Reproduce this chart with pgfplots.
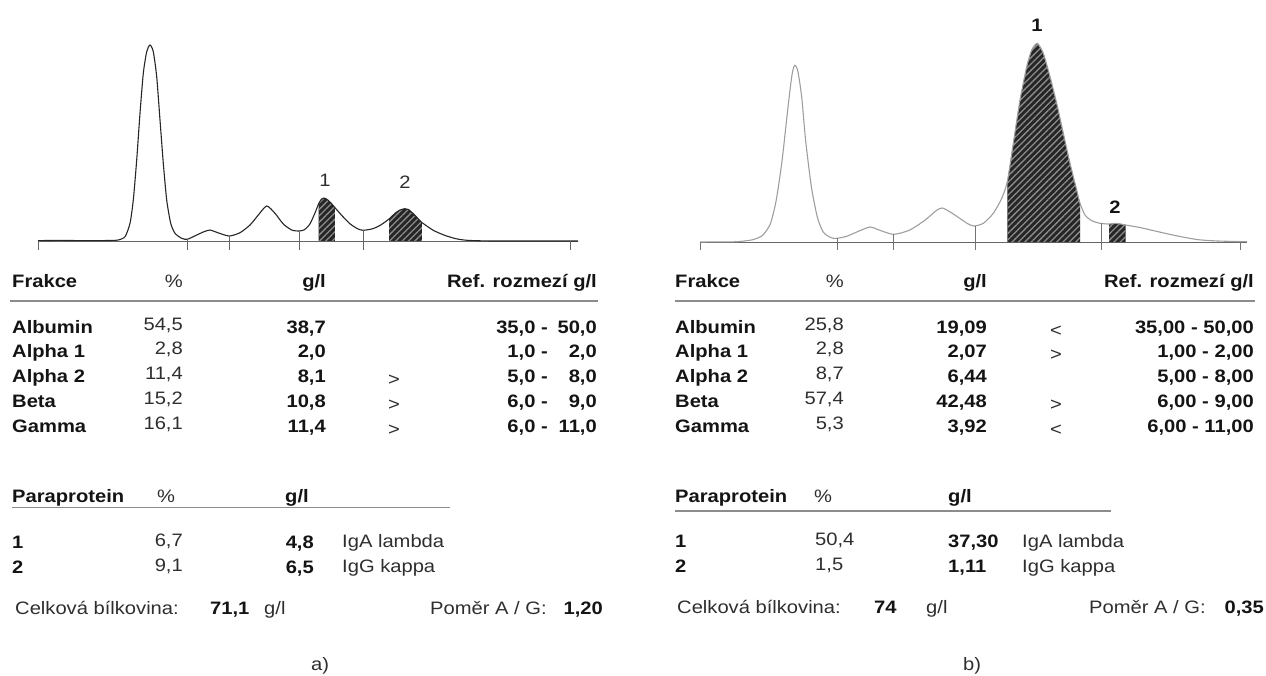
\documentclass[border=0pt]{standalone}
\usepackage{fontspec}
\setmainfont{Liberation Sans}[FakeStretch=1.12]
\usepackage{pgfplots}
\pgfplotsset{compat=1.18}
\usetikzlibrary{patterns.meta}
\newcommand{\tf}{\fontsize{18}{21}\selectfont}
\newcommand{\B}[4]{\node[anchor=#1,inner sep=0pt,font=\tf\bfseries,text=black!92] at (axis cs:#2,#3) {#4};}
\newcommand{\R}[4]{\node[anchor=#1,inner sep=0pt,font=\tf,text=black!82] at (axis cs:#2,#3) {#4};}
\begin{document}
\begin{tikzpicture}
\begin{axis}[
  at={(0,0)}, anchor=north west,
  width=1266pt, height=675pt, scale only axis,
  xmin=0, xmax=1266, ymin=0, ymax=675, y dir=reverse,
  hide axis, clip=false, enlargelimits=false,
]
% ---------- left chart ----------
\addplot[draw=black!60, line width=1pt] coordinates {(38,241) (578,241)};
\addplot[draw=none, fill=black!85] coordinates {(318.5,241) (318.5,204) (321.5,199) (324,198) (327.2,199.5) (331,203) (334.8,207.5) (334.8,241)} -- cycle;
\addplot[draw=none, pattern={Lines[angle=45,distance=4.5pt,line width=1.3pt]}, pattern color=black!45] coordinates {(318.5,241) (318.5,204) (321.5,199) (324,198) (327.2,199.5) (331,203) (334.8,207.5) (334.8,241)} -- cycle;
\addplot[draw=none, fill=black!85] coordinates {(389,241) (389,219) (395.4,213) (400,210) (404.9,208.7) (408.5,209.5) (412.5,213) (417,217.5) (421.9,222.5) (421.9,241)} -- cycle;
\addplot[draw=none, pattern={Lines[angle=45,distance=4.5pt,line width=1.3pt]}, pattern color=black!45] coordinates {(389,241) (389,219) (395.4,213) (400,210) (404.9,208.7) (408.5,209.5) (412.5,213) (417,217.5) (421.9,222.5) (421.9,241)} -- cycle;
\addplot[draw=black!85, line width=1.1pt, smooth, tension=0.4] coordinates {
(38,240.6) (60,240.4) (80,240.6) (100,240.6) (112,240.4) (118.3,240) (125,236.7) (130,223.3) (133.3,200) (136.7,160) (140,113.3) (143.3,73.3) (146.7,51.7) (150,45) (153.3,51.7) (156.7,76.7) (160,120) (163.3,163.3) (166.7,200) (170.7,223.3) (175,233.3) (181.7,238.3) (187.3,239.3) (196.7,235) (204,231.7) (210,230) (216.7,232.3) (229,236) (240,232.7) (250,225) (258.3,215) (266.7,206) (275,213.3) (283.3,224) (291.7,230) (299,231) (304.4,229.7) (310.1,223.7) (315.8,211) (318.5,204) (321.5,199) (324,198) (327.2,199.5) (331,203) (334.8,207.5) (342.3,216) (349.9,223.7) (357.5,228.7) (363.2,230.3) (372.7,228.7) (380.2,225.3) (389,219) (395.4,213) (400,210) (404.9,208.7) (408.5,209.5) (412.5,213) (417,217.5) (421.9,222.5) (433.3,230.3) (444.7,235.3) (456,238.7) (467.4,240.3) (494,241) (578,241)};
\addplot[draw=black!60, line width=0.8pt] coordinates {(38,241) (38,250)};
\addplot[draw=black!60, line width=0.8pt] coordinates {(187.3,239.3) (187.3,250)};
\addplot[draw=black!60, line width=0.8pt] coordinates {(229,236) (229,250)};
\addplot[draw=black!60, line width=0.8pt] coordinates {(299,231) (299,250)};
\addplot[draw=black!60, line width=0.8pt] coordinates {(363.2,230.3) (363.2,250)};
\addplot[draw=black!60, line width=0.8pt] coordinates {(570,241) (570,250)};
\R{center}{325}{180}{1}
\R{center}{405}{182}{2}
% ---------- right chart ----------
\addplot[draw=black!60, line width=1pt] coordinates {(700,242) (1247,242)};
\addplot[draw=none, fill=black!85] coordinates {(1007.3,242) (1007.3,181.7) (1013.3,143.3) (1020,100) (1026.7,66.7) (1031.7,50) (1037.3,43.3) (1043.3,53.3) (1050,76.7) (1056.7,103.3) (1063.3,133.3) (1070,163.3) (1076.7,190) (1080,203.3) (1080,242)} -- cycle;
\addplot[draw=none, pattern={Lines[angle=45,distance=4.5pt,line width=1.3pt]}, pattern color=black!45] coordinates {(1007.3,242) (1007.3,181.7) (1013.3,143.3) (1020,100) (1026.7,66.7) (1031.7,50) (1037.3,43.3) (1043.3,53.3) (1050,76.7) (1056.7,103.3) (1063.3,133.3) (1070,163.3) (1076.7,190) (1080,203.3) (1080,242)} -- cycle;
\addplot[draw=none, fill=black!85] coordinates {(1109,242) (1109,224) (1116.7,223.3) (1125.7,225) (1125.7,242)} -- cycle;
\addplot[draw=none, pattern={Lines[angle=45,distance=4.5pt,line width=1.3pt]}, pattern color=black!45] coordinates {(1109,242) (1109,224) (1116.7,223.3) (1125.7,225) (1125.7,242)} -- cycle;
\addplot[draw=black!38, line width=1.1pt, smooth, tension=0.4] coordinates {
(700,242) (720,241.8) (737.1,241.7) (752.8,239.7) (762.6,235.3) (770.4,223.7) (776.2,200.3) (782.1,160.3) (788,107) (791.9,75.3) (794.6,65.3) (797.8,71) (801.7,97) (805.6,140.3) (811.4,187) (817.3,217) (823.2,232) (831,237.7) (836.9,238.3) (846.6,236.3) (858.4,231.3) (870.1,227) (879.9,230.3) (893.5,234.3) (909.2,230.3) (924.8,220.3) (936.6,210.3) (942.4,208) (950.2,212) (960,218.5) (967.8,223.7) (974,226) (983.3,223.3) (993.3,213.3) (1001.7,198.3) (1007.3,181.7) (1013.3,143.3) (1020,100) (1026.7,66.7) (1031.7,50) (1037.3,43.3) (1043.3,53.3) (1050,76.7) (1056.7,103.3) (1063.3,133.3) (1070,163.3) (1076.7,190) (1080,203.3) (1085,215) (1091.7,220.7) (1100,223.3) (1109,224) (1116.7,223.3) (1125.7,225) (1139.9,227.5) (1159.4,232) (1179,236.3) (1198.5,239.7) (1218,241) (1247,241.7)};
\addplot[draw=black!55, line width=0.8pt] coordinates {(700,242) (700,250)};
\addplot[draw=black!55, line width=0.8pt] coordinates {(836.9,238.3) (836.9,250)};
\addplot[draw=black!55, line width=0.8pt] coordinates {(893.5,234.3) (893.5,250)};
\addplot[draw=black!55, line width=0.8pt] coordinates {(975,226) (975,250)};
\addplot[draw=black!55, line width=0.8pt] coordinates {(1101,223.3) (1101,250)};
\addplot[draw=black!55, line width=0.8pt] coordinates {(1240,242) (1240,250)};
\B{center}{1037}{25}{1}
\B{center}{1115}{207}{2}
% ---------- left table ----------
\B{base west}{12}{287}{Frakce}
\R{base east}{183}{287}{\%}
\B{base east}{326}{287}{g/l}
\B{base east}{597}{287}{Ref. rozmezí g/l}
\addplot[draw=black!45, line width=1.6pt] coordinates {(10,301) (598,301)};
\B{base west}{12}{333}{Albumin}
\B{base west}{12}{357.5}{Alpha 1}
\B{base west}{12}{382}{Alpha 2}
\B{base west}{12}{407}{Beta}
\B{base west}{12}{432}{Gamma}
\R{base east}{183}{330}{54,5}
\R{base east}{183}{354.5}{2,8}
\R{base east}{183}{379}{11,4}
\R{base east}{183}{404}{15,2}
\R{base east}{183}{429}{16,1}
\B{base east}{326}{333}{38,7}
\B{base east}{326}{357.5}{2,0}
\B{base east}{326}{382}{8,1}
\B{base east}{326}{407}{10,8}
\B{base east}{326}{432}{11,4}
\R{base west}{388}{385}{>}
\R{base west}{388}{410}{>}
\R{base west}{388}{435}{>}
\B{base east}{548}{333}{35,0 -}
\B{base east}{548}{357.5}{1,0 -}
\B{base east}{548}{382}{5,0 -}
\B{base east}{548}{407}{6,0 -}
\B{base east}{548}{432}{6,0 -}
\B{base east}{597}{333}{50,0}
\B{base east}{597}{357.5}{2,0}
\B{base east}{597}{382}{8,0}
\B{base east}{597}{407}{9,0}
\B{base east}{597}{432}{11,0}
\B{base west}{12}{502}{Paraprotein}
\R{base west}{157}{502}{\%}
\B{base west}{285}{502}{g/l}
\addplot[draw=black!45, line width=1.4pt] coordinates {(12,507.5) (450,507.5)};
\B{base west}{12}{548}{1}
\B{base west}{12}{573}{2}
\R{base east}{183}{546}{6,7}
\R{base east}{183}{571}{9,1}
\B{base east}{314}{548}{4,8}
\B{base east}{314}{573}{6,5}
\R{base west}{342}{547}{IgA lambda}
\R{base west}{342}{572}{IgG kappa}
\R{base west}{15}{614}{Celková bílkovina:}
\B{base west}{210}{614}{71,1}
\R{base west}{264}{614}{g/l}
\R{base west}{430}{614}{Poměr A / G:}
\B{base east}{603}{614}{1,20}
\R{base}{320}{670}{a)}
% ---------- right table ----------
\B{base west}{675}{287}{Frakce}
\R{base east}{844}{287}{\%}
\B{base east}{987}{287}{g/l}
\B{base east}{1254}{287}{Ref. rozmezí g/l}
\addplot[draw=black!45, line width=1.6pt] coordinates {(675,301) (1255,301)};
\B{base west}{675}{333}{Albumin}
\B{base west}{675}{357.5}{Alpha 1}
\B{base west}{675}{382}{Alpha 2}
\B{base west}{675}{407}{Beta}
\B{base west}{675}{432}{Gamma}
\R{base east}{844}{330}{25,8}
\R{base east}{844}{354.5}{2,8}
\R{base east}{844}{379}{8,7}
\R{base east}{844}{404}{57,4}
\R{base east}{844}{429}{5,3}
\B{base east}{987}{333}{19,09}
\B{base east}{987}{357.5}{2,07}
\B{base east}{987}{382}{6,44}
\B{base east}{987}{407}{42,48}
\B{base east}{987}{432}{3,92}
\R{base west}{1050}{336}{<}
\R{base west}{1050}{360.5}{>}
\R{base west}{1050}{410}{>}
\R{base west}{1050}{435}{<}
\B{base east}{1254}{333}{35,00 - 50,00}
\B{base east}{1254}{357.5}{1,00 - 2,00}
\B{base east}{1254}{382}{5,00 - 8,00}
\B{base east}{1254}{407}{6,00 - 9,00}
\B{base east}{1254}{432}{6,00 - 11,00}
\B{base west}{675}{502}{Paraprotein}
\R{base west}{814}{502}{\%}
\B{base west}{948}{502}{g/l}
\addplot[draw=black!45, line width=1.4pt] coordinates {(675,511) (1111,511)};
\B{base west}{675}{547}{1}
\B{base west}{675}{572}{2}
\R{base west}{815}{545}{50,4}
\R{base west}{815}{570}{1,5}
\B{base west}{948}{547}{37,30}
\B{base west}{948}{572}{1,11}
\R{base west}{1022}{547}{IgA lambda}
\R{base west}{1022}{572}{IgG kappa}
\R{base west}{677}{613}{Celková bílkovina:}
\B{base west}{874}{613}{74}
\R{base west}{926}{613}{g/l}
\R{base west}{1089}{613}{Poměr A / G:}
\B{base east}{1264}{613}{0,35}
\R{base}{972}{670}{b)}
\end{axis}
\pgfresetboundingbox
\path (0,0) rectangle (1266pt,-675pt);
\end{tikzpicture}
\end{document}
